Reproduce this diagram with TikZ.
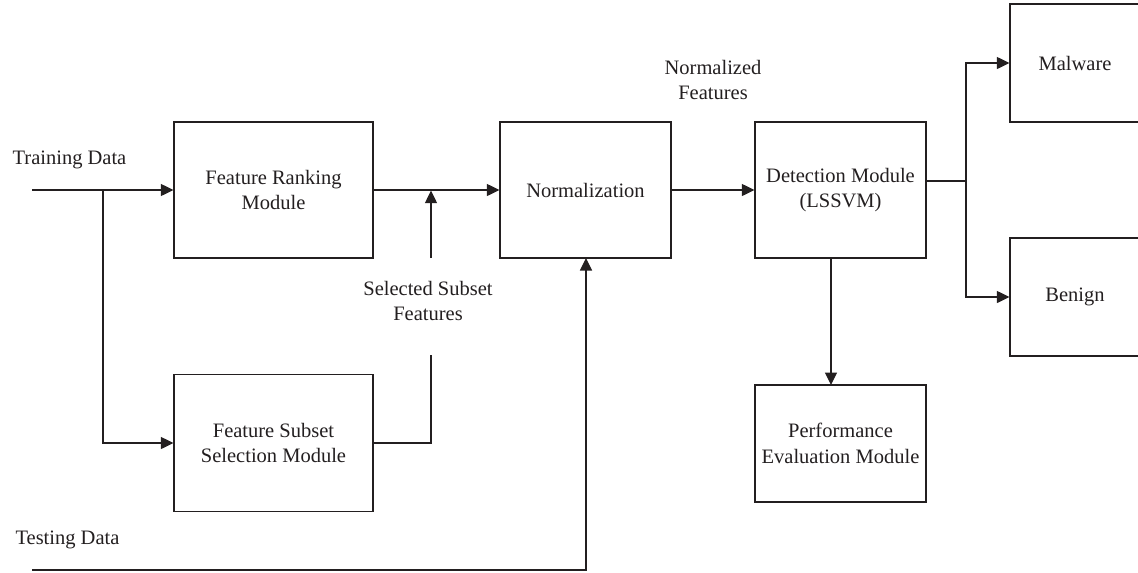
\documentclass[tikz,border=0pt]{standalone}
\usepackage{fontspec}
\setmainfont{Liberation Serif}
\usetikzlibrary{arrows.meta,calc}
\definecolor{ink}{HTML}{231F20}
\begin{document}
\begin{tikzpicture}[x=1pt,y=-1pt,
  every node/.style={text=ink,font=\fontsize{20.5}{25.5}\selectfont,align=center,inner sep=0pt},
  box/.style={draw=ink,line width=1.2pt,minimum width=#1,anchor=center},
  box/.default=171pt,
  conn/.style={draw=ink,line width=1.2pt},
  arr/.style={conn,-{Triangle[length=12.5pt,width=12pt]}}]
\useasboundingbox (0,0) rectangle (1138,573);
\clip (0,0) rectangle (1138,573);
% boxes
\node[box=199pt,minimum height=136pt] (fr) at (273.5,190) {Feature Ranking\\Module};
\node[box=199pt,minimum height=137pt] (fss) at (273.5,443) {Feature Subset\\Selection Module};
\node[box,minimum height=136pt] (norm) at (585.5,190) {Normalization};
\node[box,minimum height=136pt] (det) at (840.5,190) {Detection Module\\(LSSVM)};
\node[box,minimum height=117pt] (perf) at (840.5,443.5) {Performance\\Evaluation Module};
\node[box=130pt,minimum height=118pt] (mal) at (1075,63) {Malware};
\node[box=130pt,minimum height=118pt] (ben) at (1075,297) {Benign};
% labels
\node (ltrain) at (69.5,160) {Training Data};
\node (ltest) at (67.5,540) {Testing Data};
\node (lsel) at (428,301) {Selected Subset\\Features};
\node (lnorm) at (713,80) {Normalized\\Features};
% coordinates
\coordinate (tstart) at (32,190);
\coordinate (tbranch) at (103,190);
\coordinate (ststart) at (32,570);
\coordinate (stcorner) at (586,570);
\coordinate (nbot) at (586,258);
\coordinate (selx) at (431,443);
\coordinate (seltop) at (431,355);
\coordinate (selarrow) at (431,258);
\coordinate (seltip) at (431,190.6);
\coordinate (detout) at (926,181);
\coordinate (split) at (966,181);
\coordinate (detbot) at (831,258);
\coordinate (perftop) at (831,385);
% connectors
\draw[arr] (tstart) -- (fr.west);
\draw[arr] (tbranch) |- (fss.west);
\draw[arr] (fr.east) -- (norm.west);
\draw[conn] (fss.east) -- (selx) -- (seltop);
\draw[arr] (selarrow) -- (seltip);
\draw[arr] (ststart) -- (stcorner) -- (nbot);
\draw[arr] (norm.east) -- (det.west);
\draw[conn] (detout) -- (split);
\draw[arr] (split) |- (mal.west);
\draw[arr] (split) |- (ben.west);
\draw[arr] (detbot) -- (perftop);
\end{tikzpicture}
\end{document}
